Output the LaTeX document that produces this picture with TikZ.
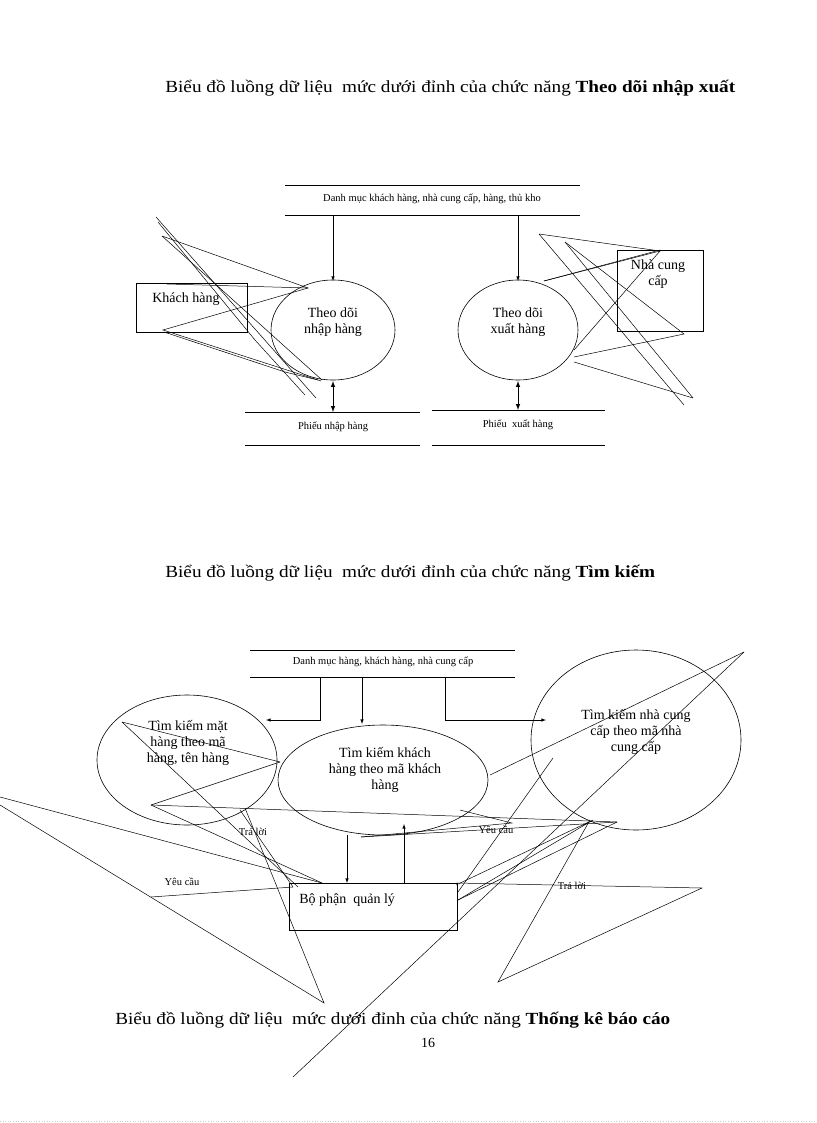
\documentclass[tikz,border=0pt]{standalone}
\usepackage{fontspec}
\setmainfont{Liberation Serif}
\begin{document}
\begin{tikzpicture}[x=1pt,y=-1pt,line width=0.6pt,
  lbl/.style={inner sep=0pt,font=\fontsize{14}{16}\selectfont,align=center},
  small/.style={inner sep=0pt,font=\fontsize{10.5}{12}\selectfont},
  ttl/.style={inner sep=0pt,font=\fontsize{17}{19}\selectfont,anchor=west,xscale=1.13},
  arr/.style={-latex},
  art/.style={line width=0.5pt}]
\useasboundingbox (0,0) rectangle (816,1123);
% ---------- section 1
\node[ttl] (t1) at (165,88) {Biểu đồ luồng dữ liệu\ \ mức dưới đỉnh của chức năng \textbf{Theo dõi nhập xuất}};
\coordinate (s1a) at (285,185); \coordinate (s1b) at (580,185);
\coordinate (s1c) at (285,215); \coordinate (s1d) at (580,215);
\draw (s1a)--(s1b) (s1c)--(s1d);
\node[small] (s1) at (432,199) {Danh mục khách hàng, nhà cung cấp, hàng, thủ kho};
\draw (333,330) ellipse (62 and 50);
\node[lbl] (e1) at (333,322) {Theo dõi\\nhập hàng};
\draw (518,330) ellipse (60 and 50);
\node[lbl] (e2) at (518,322) {Theo dõi\\xuất hàng};
\draw[arr] (333,215) -- (333,281);
\draw[arr] (518,215) -- (518,281);
\draw (136,283) rectangle (247,332);
\node[lbl,anchor=west] (kh) at (152,299) {Khách hàng};
\draw (617,250) rectangle (703,331);
\node[lbl] (ncc) at (658,274) {Nhà cung\\cấp};
\draw[latex-latex,line width=1pt] (333,381) -- (333,412);
\draw[latex-latex,line width=1pt] (518,381) -- (518,410);
\draw (245,412)--(420,412) (245,445)--(420,445);
\node[small] (p1) at (333,427) {Phiếu nhập hàng};
\draw (432,410)--(605,410) (432,445)--(605,445);
\node[small] (p2) at (518,425) {Phiếu\ \ xuất hàng};
% artifacts left
\draw[art] (156,217)--(316,398);
\draw[art] (162,236)--(322,380);
\draw[art] (162,236)--(308,288)--(163,330)--(321,381);
\draw[art] (167,284)--(308,288);
\draw[art] (158,222)--(255,340)--(305,395);
\draw[art] (164,332)--(285,372)--(318,380);
% artifacts right
\draw[art] (539,234)--(660,251)--(544,281);
\draw[art] (539,234)--(684,405);
\draw[art] (565,242)--(693,398);
\draw[art] (565,242)--(684,334)--(574,357);
\draw[art] (660,251)--(574,350);
\draw[art] (574,362)--(693,398);
\draw[art] (544,281)--(660,250);
% ---------- section 2
\node[ttl] (t2) at (165,573) {Biểu đồ luồng dữ liệu\ \ mức dưới đỉnh của chức năng \textbf{Tìm kiếm}};
\draw (250,650)--(515,650) (250,677)--(515,677);
\node[small] (s2) at (383,662) {Danh mục hàng, khách hàng, nhà cung cấp};
\draw (187,760) ellipse (90 and 65);
\node[lbl] (f1) at (188,743) {Tìm kiếm mặt\\hàng theo mã\\hàng, tên hàng};
\draw (383,780) ellipse (105 and 55);
\node[lbl] (f2) at (385,770) {Tìm kiếm khách\\hàng theo mã khách\\hàng};
\draw (636,740) ellipse (105 and 90);
\node[lbl] (f3) at (636,732) {Tìm kiếm nhà cung\\cấp theo mã nhà\\cung cấp};
\draw[arr] (320,677) -- (320,720) -- (266,720);
\draw[arr] (362,677) -- (362,724);
\draw[arr] (445,677) -- (445,720) -- (546,720);
\draw (289,883) rectangle (457,930);
\node[lbl,anchor=west] (bp) at (299,900) {Bộ phận\ \ quản lý};
\draw[arr] (347,835) -- (347,883);
\draw[arr] (404,883) -- (404,824);
\node[small] (l1) at (253,832) {Trả lời};
\node[small] (l2) at (496,830) {Yêu cầu};
\node[small] (l3) at (182,882) {Yêu cầu};
\node[small] (l4) at (572,886) {Trả lời};
% artifacts
\draw[art] (0,797)--(322,883);
\draw[art] (0,805)--(324,1003)--(245,808);
\draw[art] (151,897)--(293,887);
\draw[art] (122,722)--(298,887);
\draw[art] (122,722)--(280,762);
\draw[art] (151,805)--(280,762);
\draw[art] (151,805)--(617,822);
\draw[art] (151,805)--(322,883);
\draw[art] (240,810)--(293,887);
\draw[art] (744,652)--(490,775);
\draw[art] (744,652)--(293,1077);
\draw[art] (456,883)--(702,888)--(498,982)--(590,820);
\draw[art] (361,837)--(512,823)--(460,810);
\draw[art] (361,837)--(617,822);
\draw[art] (458,900)--(593,820)--(456,885);
\draw[art] (458,900)--(617,822);
\draw[art] (458,892)--(553,758);
% ---------- section 3
\node[ttl] (t3) at (115,1020) {Biểu đồ luồng dữ liệu\ \ mức dưới đỉnh của chức năng \textbf{Thống kê báo cáo}};
\node[inner sep=0pt,font=\fontsize{14}{16}\selectfont] (pg) at (428,1043) {16};
\draw[gray!40,dotted] (0,1121)--(816,1121);
\end{tikzpicture}
\end{document}
